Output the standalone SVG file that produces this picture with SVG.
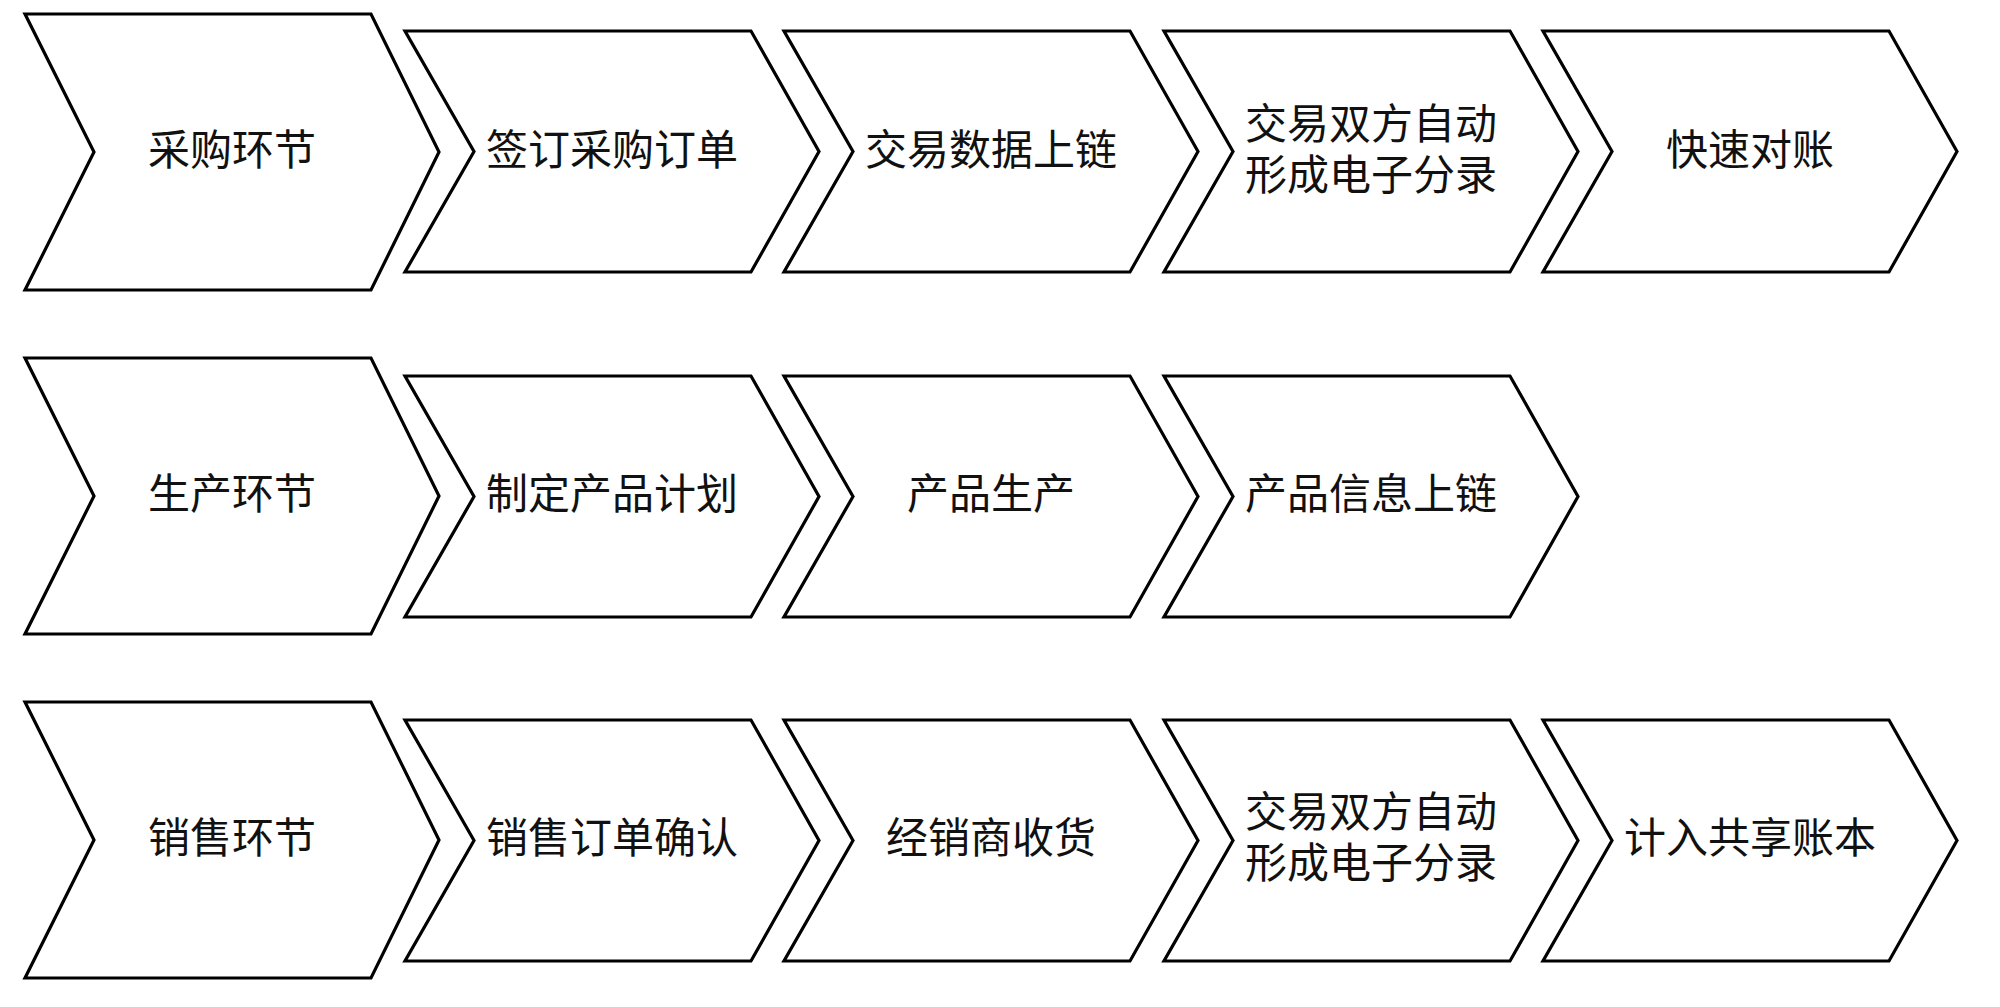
<svg xmlns="http://www.w3.org/2000/svg" xmlns:xlink="http://www.w3.org/1999/xlink" width="2000" height="1007" viewBox="0 0 2000 1007">
<style>
.shape{fill:#fff;stroke:#000;stroke-width:3.2;stroke-linejoin:miter}
.lbl{font-family:"Liberation Sans","Noto Sans CJK SC",sans-serif;font-size:42px;fill:#111;text-anchor:middle}
</style>
<defs>
<path id="big" d="M0,0 H346 L414,138 L346,276 H0 L69,138 Z"/>
<path id="small" d="M0,0 H346 L414,120.5 L346,241 H0 L69,120.5 Z"/>
</defs>
<rect width="2000" height="1007" fill="#fff"/>
<g id="connectors"></g>
<!-- Row 1 -->
<g id="n-caigou"><use href="#big" class="shape" x="25" y="14"/><text class="lbl" x="232" y="165">采购环节</text></g>
<g id="n-qianding"><use href="#small" class="shape" x="405" y="31"/><text class="lbl" x="612" y="165">签订采购订单</text></g>
<g id="n-jiaoyi-shuju"><use href="#small" class="shape" x="784" y="31"/><text class="lbl" x="991" y="165">交易数据上链</text></g>
<g id="n-fenlu1"><use href="#small" class="shape" x="1164" y="31"/><text class="lbl" x="1371" y="139"><tspan x="1371" y="139">交易双方自动</tspan><tspan x="1371" y="190">形成电子分录</tspan></text></g>
<g id="n-duizhang"><use href="#small" class="shape" x="1543" y="31"/><text class="lbl" x="1750" y="165">快速对账</text></g>
<!-- Row 2 -->
<g id="n-shengchan"><use href="#big" class="shape" x="25" y="358"/><text class="lbl" x="232" y="509">生产环节</text></g>
<g id="n-jihua"><use href="#small" class="shape" x="405" y="376"/><text class="lbl" x="612" y="509">制定产品计划</text></g>
<g id="n-chanpin-shengchan"><use href="#small" class="shape" x="784" y="376"/><text class="lbl" x="991" y="509">产品生产</text></g>
<g id="n-xinxi"><use href="#small" class="shape" x="1164" y="376"/><text class="lbl" x="1371" y="509">产品信息上链</text></g>
<!-- Row 3 -->
<g id="n-xiaoshou"><use href="#big" class="shape" x="25" y="702"/><text class="lbl" x="232" y="853">销售环节</text></g>
<g id="n-queren"><use href="#small" class="shape" x="405" y="720"/><text class="lbl" x="612" y="853">销售订单确认</text></g>
<g id="n-shouhuo"><use href="#small" class="shape" x="784" y="720"/><text class="lbl" x="991" y="853">经销商收货</text></g>
<g id="n-fenlu2"><use href="#small" class="shape" x="1164" y="720"/><text class="lbl" x="1371" y="827"><tspan x="1371" y="827">交易双方自动</tspan><tspan x="1371" y="878">形成电子分录</tspan></text></g>
<g id="n-zhangben"><use href="#small" class="shape" x="1543" y="720"/><text class="lbl" x="1750" y="853">计入共享账本</text></g>
</svg>
